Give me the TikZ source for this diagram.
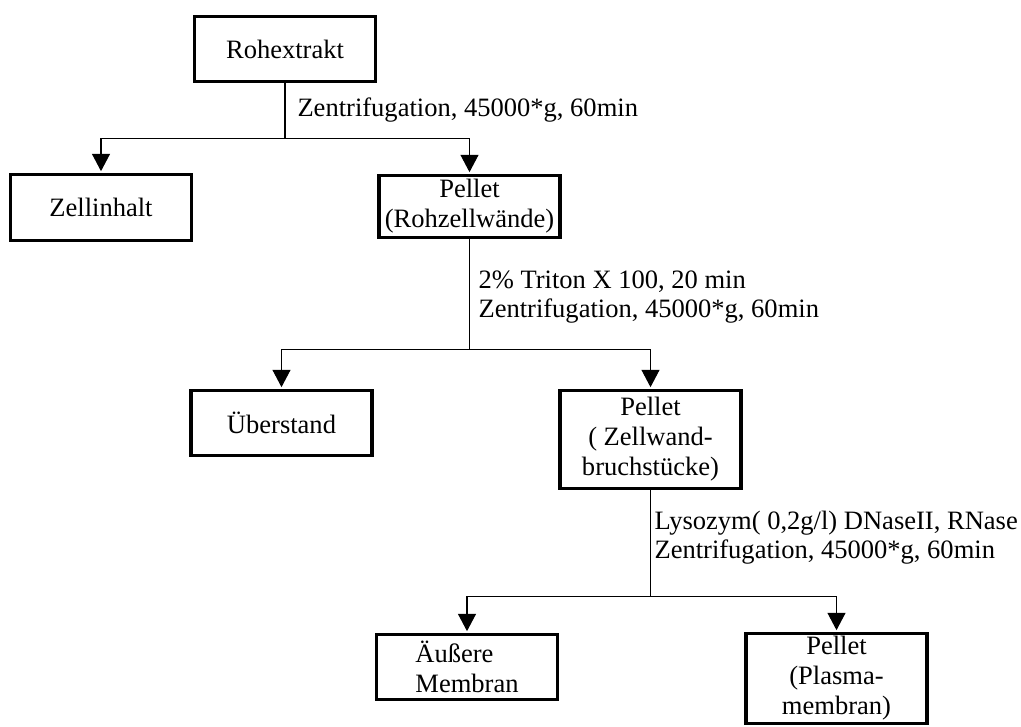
\documentclass[tikz,border=0pt]{standalone}
\usepackage{fontspec}
\setmainfont{Liberation Serif}
\usetikzlibrary{arrows.meta}

\begin{document}
\begin{tikzpicture}[x=0.75pt,y=-0.75pt,line width=0.8pt,
                    box/.style={draw,line width=2.6pt,minimum width=\boxwidth,inner sep=2pt,align=center,
                                font=\fontsize{19.9}{22.5}\selectfont},
                    lbl/.style={inner sep=0pt,align=left,font=\fontsize{19.9}{21.75}\selectfont},
                    arr/.style={-{Triangle[length=13pt,width=13.5pt]},shorten >=1.2pt}]
                    \def\boxwidth{136pt}
                    \useasboundingbox (0,0) rectangle (1021,727);
                    \fill[white] (0,0) rectangle (1021,727);
                    
                    \node[box,minimum height=48.75pt] (roh) at (285,49) {Rohextrakt};
                    \node[box,minimum height=49.5pt] (zell) at (101,207.5) {Zellinhalt};
                    \node[box,minimum height=46.5pt] (pel1) at (469.5,206.5) {Pellet\\(Rohzellwände)};
                    \node[box,minimum height=48.75pt] (ueber) at (281.5,423) {Überstand};
                    \node[box,minimum height=73.5pt] (pel2) at (650.5,439.5) {Pellet\\( Zellwand-\\bruchstücke)};
                    \node[box,minimum height=48.75pt,align=left] (aeuss) at (467,667) {Äußere\\Membran};
                    \node[box,minimum height=67.5pt] (pel3) at (836.5,678.5) {Pellet\\(Plasma-\\membran)};
                    
                    \draw (roh.south) -- ++(0,55.5) coordinate (j1); %first step
                    \draw[arr] (j1) -| (zell.north);
                    \draw[arr] (j1) -| (pel1.north);
                    \node[lbl,anchor=base west] (step1) at (297,117) {Zentrifugation, 45000*g, 60min};
                    
                    \draw (pel1.south) -- ++(0,110.5) coordinate (j2); %second step
                    \draw[arr] (j2) -| (ueber.north);
                    \draw[arr] (j2) -| (pel2.north);
                    \node[lbl,anchor=north west] (step2) at (478,270) {2\% Triton X 100, 20 min\\Zentrifugation, 45000*g, 60min};
                    
                    \draw (pel2.south) -- ++(0,106.5) coordinate (j3); %third step
                    \draw[arr] (j3) -| (aeuss.north);
                    \draw[arr] (j3) -| (pel3.north);
                    \node[lbl,anchor=north west] (step3) at (654,511) {Lysozym( 0,2g/l) DNaseII, RNase\\Zentrifugation, 45000*g, 60min};
                \end{tikzpicture}
\end{document}
